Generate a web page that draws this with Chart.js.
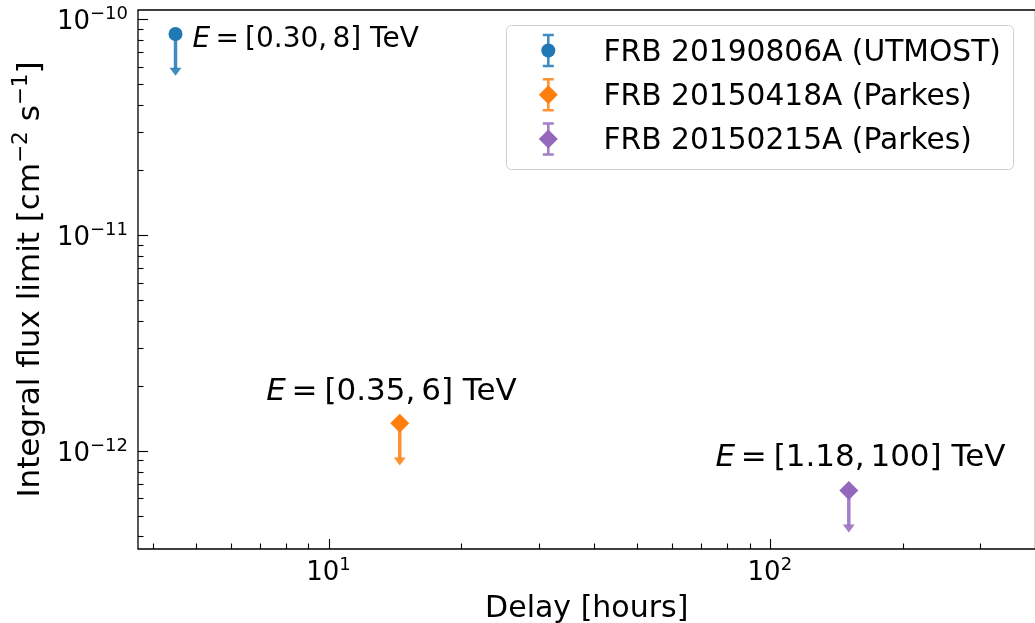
<!DOCTYPE html>
<html><head><meta charset="utf-8">
<script src="https://cdn.jsdelivr.net/npm/chart.js@4.4.0/dist/chart.umd.min.js"></script>
<style>html,body{margin:0;padding:0;background:#fff;overflow:hidden;width:1035px;height:623px}
#wrap{width:1045px;height:623px;position:absolute;left:0;top:0}
#c{width:1045px;height:623px;display:block}</style>
</head><body>
<div id="wrap"><canvas id="c" width="1045" height="623"></canvas></div>
<script>
// ---- data ----
const seriesLabels = ['FRB 20190806A (UTMOST)', 'FRB 20150418A (Parkes)', 'FRB 20150215A (Parkes)'];
const delayHours = [4.50, 14.5, 151];
const fluxLimits = [8.52e-11, 1.34e-12, 6.53e-13];
const arrowEnds = [5.46e-11, 8.52e-13, 4.17e-13];
const energyLow = ['0.30', '0.35', '1.18'];
const energyHigh = ['8', '6', '100'];
const xMajorTicks = [10, 100];
const xTickExponents = ['1', '2'];
const yMajorTicks = [1e-12, 1e-11, 1e-10];
const yTickExponents = ['\u221212', '\u221211', '\u221210'];
const xLimits = [3.7, 400];
const yLimits = [3.5e-13, 1.1e-10];

// ---- style ----
const seriesColors = ['#1f77b4', '#ff7f0e', '#9467bd'];
const lineColors = ['rgba(31,119,180,0.85)', 'rgba(255,127,14,0.85)', 'rgba(148,103,189,0.85)'];
const pointStyles = ['circle', 'rectRot', 'rectRot'];
const pointRadii = [7, 9.5, 9.5];
const annotationStyle = [{dx: 17, dy: 13, size: 28}, {dx: -133.5, dy: -23, size: 31}, {dx: -133.3, dy: -25, size: 31}];
const FONT = '"DejaVu Sans", "Liberation Sans", sans-serif';

function f(size, style) { return (style ? style + ' ' : '') + size + 'px ' + FONT; }

function drawPow(ctx, x, baseline, exp, align, baseSize, supSize, raise) {
  ctx.font = f(baseSize);
  const w1 = ctx.measureText('10').width;
  ctx.font = f(supSize);
  const w2 = ctx.measureText(exp).width;
  const total = w1 + w2;
  let x0 = align === 'center' ? x - total / 2 : (align === 'right' ? x - total : x);
  ctx.textAlign = 'left';
  ctx.font = f(baseSize);
  ctx.fillText('10', x0, baseline);
  ctx.font = f(supSize);
  ctx.fillText(exp, x0 + w1, baseline - raise);
}

function logTicks(min, max) {
  const out = [];
  for (let d = Math.floor(Math.log10(min)); d <= Math.ceil(Math.log10(max)); d++) {
    for (let m = 1; m <= 9; m++) {
      const v = m * Math.pow(10, d);
      if (v >= min * 0.99999 && v <= max * 1.00001) out.push({v: v, major: m === 1});
    }
  }
  return out;
}

const arrowPlugin = {
  id: 'arrows',
  beforeDatasetsDraw(chart) {
    const ctx = chart.ctx, xs = chart.scales.x, ys = chart.scales.y;
    ctx.save();
    chart.data.datasets.forEach((ds, i) => {
      const px = xs.getPixelForValue(delayHours[i]);
      const py = ys.getPixelForValue(fluxLimits[i]);
      const tip = ys.getPixelForValue(arrowEnds[i]);
      ctx.strokeStyle = lineColors[i];
      ctx.fillStyle = lineColors[i];
      ctx.lineWidth = 3.5;
      ctx.beginPath();
      ctx.moveTo(px, py);
      ctx.lineTo(px, tip - 7);
      ctx.stroke();
      ctx.beginPath();
      ctx.moveTo(px - 6, tip - 8);
      ctx.lineTo(px + 6, tip - 8);
      ctx.lineTo(px, tip);
      ctx.closePath();
      ctx.fill();
    });
    ctx.restore();
  },
  afterDraw(chart) {
    const ctx = chart.ctx, xs = chart.scales.x, ys = chart.scales.y, a = chart.chartArea;
    ctx.save();
    // spines
    ctx.strokeStyle = '#000';
    ctx.lineWidth = 1.3;
    ctx.beginPath();
    ctx.rect(a.left, a.top, a.right - a.left, a.bottom - a.top);
    ctx.stroke();
    // ticks (inward)
    ctx.lineWidth = 1.1;
    logTicks(xLimits[0], xLimits[1]).forEach(t => {
      const x = Math.round(xs.getPixelForValue(t.v)) + 0.5;
      ctx.beginPath();
      ctx.moveTo(x, a.bottom);
      ctx.lineTo(x, a.bottom - (t.major ? 10 : 5.5));
      ctx.stroke();
    });
    logTicks(yLimits[0], yLimits[1]).forEach(t => {
      const y = Math.round(ys.getPixelForValue(t.v)) + 0.5;
      ctx.beginPath();
      ctx.moveTo(a.left, y);
      ctx.lineTo(a.left + (t.major ? 10 : 5.5), y);
      ctx.stroke();
    });
    // tick labels
    ctx.fillStyle = '#000';
    ctx.textBaseline = 'alphabetic';
    xMajorTicks.forEach((v, i) => {
      drawPow(ctx, xs.getPixelForValue(v), a.bottom + 31, xTickExponents[i], 'center', 26, 18, 10);
    });
    yMajorTicks.forEach((v, i) => {
      drawPow(ctx, a.left - 10, ys.getPixelForValue(v) + 10, yTickExponents[i], 'right', 26, 18, 10);
    });
    // x title
    ctx.font = f(30);
    ctx.textAlign = 'center';
    ctx.fillText('Delay [hours]', (a.left + a.right) / 2, 617);
    // y title
    ctx.save();
    ctx.translate(39, (a.top + a.bottom) / 2);
    ctx.rotate(-Math.PI / 2);
    const segs = [
      {t: 'Integral flux limit [cm', s: 31, r: 0},
      {t: '\u22122', s: 21.5, r: 12},
      {t: ' s', s: 31, r: 0},
      {t: '\u22121', s: 21.5, r: 12},
      {t: ']', s: 31, r: 0}
    ];
    let tot = 0;
    segs.forEach(sg => { ctx.font = f(sg.s); sg.w = ctx.measureText(sg.t).width; tot += sg.w; });
    let cx = -tot / 2;
    ctx.textAlign = 'left';
    segs.forEach(sg => { ctx.font = f(sg.s); ctx.fillText(sg.t, cx, -sg.r); cx += sg.w; });
    ctx.restore();
    // annotations
    ctx.textAlign = 'left';
    chart.data.datasets.forEach((ds, i) => {
      const st = annotationStyle[i];
      const k = st.size / 27;
      const px = xs.getPixelForValue(delayHours[i]);
      const py = ys.getPixelForValue(fluxLimits[i]);
      let x = px + st.dx;
      const base = py + st.dy;
      ctx.font = f(st.size, 'italic');
      ctx.fillText('E', x, base);
      x += ctx.measureText('E').width + 5 * k;
      ctx.font = f(st.size);
      ctx.fillText('=', x, base);
      x += ctx.measureText('=').width + 6 * k;
      const s1 = '[' + energyLow[i] + ',';
      ctx.fillText(s1, x, base);
      x += ctx.measureText(s1).width + 5 * k;
      const s2 = energyHigh[i] + ']';
      ctx.fillText(s2, x, base);
      x += ctx.measureText(s2).width;
      ctx.fillText(' TeV', x, base);
    });
    // legend
    const lx = 506, ly = 25, lw = 507, lh = 144;
    ctx.beginPath();
    ctx.roundRect(lx + 0.5, ly + 0.5, lw, lh, 5);
    ctx.fillStyle = 'rgba(255,255,255,0.8)';
    ctx.fill();
    ctx.strokeStyle = '#d0d0d0';
    ctx.lineWidth = 1;
    ctx.stroke();
    const rowY = [50.5, 94.8, 139];
    chart.data.datasets.forEach((ds, i) => {
      const sx = 548.3, sy = rowY[i];
      ctx.strokeStyle = lineColors[i];
      ctx.lineWidth = 2.6;
      ctx.beginPath();
      ctx.moveTo(sx, sy - 15.5); ctx.lineTo(sx, sy + 15.5);
      ctx.moveTo(sx - 5.5, sy - 15.5); ctx.lineTo(sx + 5.5, sy - 15.5);
      ctx.moveTo(sx - 5.5, sy + 15.5); ctx.lineTo(sx + 5.5, sy + 15.5);
      ctx.stroke();
      ctx.fillStyle = seriesColors[i];
      ctx.beginPath();
      if (pointStyles[i] === 'circle') {
        ctx.arc(sx, sy, 7, 0, Math.PI * 2);
      } else {
        ctx.moveTo(sx, sy - 9.5); ctx.lineTo(sx + 9.5, sy); ctx.lineTo(sx, sy + 9.5); ctx.lineTo(sx - 9.5, sy); ctx.closePath();
      }
      ctx.fill();
      ctx.fillStyle = '#000';
      ctx.font = f(29.7);
      ctx.textAlign = 'left';
      ctx.fillText(ds.label, 603.5, sy + 10);
    });
    ctx.restore();
  }
};

new Chart(document.getElementById('c'), {
  type: 'scatter',
  data: {
    datasets: seriesLabels.map((label, i) => ({
      label: label,
      data: [{x: delayHours[i], y: fluxLimits[i]}],
      pointStyle: pointStyles[i],
      pointRadius: pointRadii[i],
      backgroundColor: seriesColors[i],
      borderColor: seriesColors[i],
      borderWidth: 0
    }))
  },
  options: {
    responsive: false,
    animation: false,
    events: [],
    layout: {padding: {left: 138, top: 10, right: 3, bottom: 74}},
    plugins: {legend: {display: false}, tooltip: {enabled: false}},
    scales: {
      x: {type: 'logarithmic', min: xLimits[0], max: xLimits[1], display: false},
      y: {type: 'logarithmic', min: yLimits[0], max: yLimits[1], display: false}
    }
  },
  plugins: [arrowPlugin]
});
</script>
</body></html>
